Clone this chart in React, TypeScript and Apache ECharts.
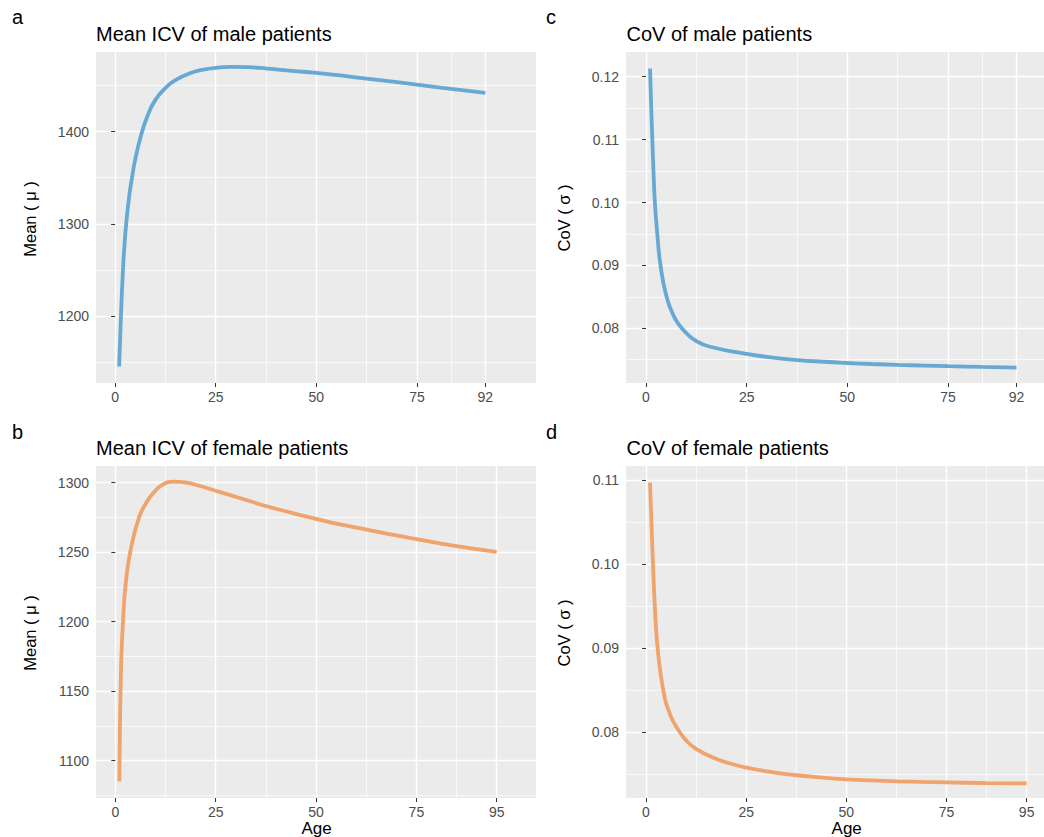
import React, { useEffect, useRef } from "react";
import * as echarts from "echarts";

// ---- data ----
const maleMeanAge = [1, 1.45, 1.95, 2.3, 2.75, 3.5, 4.2, 5, 6.5, 8, 10, 12.75, 15, 18.6, 22, 25, 28.6, 33, 37.7, 44, 50, 56, 62.5, 69, 75, 83.5, 92];
const maleMean = [1145, 1200, 1250, 1275, 1300, 1330, 1350, 1370, 1397, 1416.5, 1434.5, 1448.5, 1456, 1463.5, 1467.3, 1469.2, 1470.3, 1470, 1468.5, 1466, 1463.8, 1461, 1457.6, 1454.3, 1451, 1446.5, 1442];

const femaleMeanAge = [1, 1.15, 1.3, 1.5, 1.9, 2.5, 3.7, 5.9, 8, 9.4, 11.5, 14.5, 18, 21.1, 25, 31, 37.5, 44, 50, 56, 62.6, 69, 75, 85, 95];
const femaleMean = [1085, 1125, 1150, 1175, 1200, 1225, 1250, 1275, 1287, 1292.3, 1298, 1300.8, 1299.9, 1297.6, 1294.2, 1289, 1283.2, 1278.3, 1274, 1270, 1266.3, 1262.6, 1259.4, 1254.3, 1250.2];

const maleCovAge = [1, 1.3, 1.6, 1.85, 2.2, 2.8, 3.6, 5.1, 7, 8.9, 12.6, 17, 23.5, 30, 37.6, 44, 50, 56, 62.6, 69, 75, 83.5, 92];
const maleCov = [0.1213, 0.115, 0.1095, 0.105, 0.1, 0.095, 0.09, 0.085, 0.0818, 0.08, 0.0779, 0.0769, 0.0761, 0.07545, 0.07495, 0.07468, 0.07448, 0.07432, 0.07418, 0.07407, 0.07397, 0.07386, 0.07376];

const femaleCovAge = [1, 1.4, 1.75, 2.2, 2.9, 4.3, 6, 8, 10, 12.5, 17, 21, 25, 31, 37.5, 44, 50, 56, 62.6, 69, 75, 85, 95];
const femaleCov = [0.1097, 0.1045, 0.1, 0.095, 0.09, 0.085, 0.0821, 0.0803, 0.079, 0.078, 0.0769, 0.07625, 0.07575, 0.07525, 0.07485, 0.07456, 0.07436, 0.07423, 0.07412, 0.07405, 0.074, 0.07392, 0.07388];

const maleXTicks = [0, 25, 50, 75, 92];
const maleXMinor = [12.5, 37.5, 62.5, 83.5];
const femaleXTicks = [0, 25, 50, 75, 95];
const femaleXMinor = [12.5, 37.5, 62.5, 85];
const maleMeanYTicks = [1200, 1300, 1400];
const maleMeanYMinor = [1150, 1250, 1350, 1450];
const femaleMeanYTicks = [1100, 1150, 1200, 1250, 1300];
const femaleMeanYMinor = [1075, 1125, 1175, 1225, 1275];
const maleCovYTicks = [0.08, 0.09, 0.1, 0.11, 0.12];
const maleCovYMinor = [0.075, 0.085, 0.095, 0.105, 0.115];
const femaleCovYTicks = [0.08, 0.09, 0.1, 0.11];
const femaleCovYMinor = [0.075, 0.085, 0.095, 0.105];

const panelLetters = ["a", "b", "c", "d"];
const panelTitles = [
  "Mean ICV of male patients",
  "Mean ICV of female patients",
  "CoV of male patients",
  "CoV of female patients",
];
const meanAxisTitle = "Mean ( μ )";
const covAxisTitle = "CoV ( σ )";
const xAxisTitle = "Age";

const BLUE = "#68A9D4";
const ORANGE = "#EFA36D";
const FONT = "Liberation Sans, Arial, Helvetica, sans-serif";

function buildOption() {
  const panels = [
    {
      ages: maleMeanAge, vals: maleMean, color: BLUE,
      grid: { left: 96, top: 52, width: 440, height: 331 },
      xMin: -4.75, xMax: 104.59, yMin: 1127.1, yMax: 1486.5,
      xTicks: maleXTicks, xMinor: maleXMinor, yTicks: maleMeanYTicks, yMinor: maleMeanYMinor,
      fmt: (v: number) => String(v),
    },
    {
      ages: femaleMeanAge, vals: femaleMean, color: ORANGE,
      grid: { left: 96, top: 466, width: 440, height: 332 },
      xMin: -4.82, xMax: 104.8, yMin: 1073.2, yMax: 1312.0,
      xTicks: femaleXTicks, xMinor: femaleXMinor, yTicks: femaleMeanYTicks, yMinor: femaleMeanYMinor,
      fmt: (v: number) => String(v),
    },
    {
      ages: maleCovAge, vals: maleCov, color: BLUE,
      grid: { left: 626, top: 52, width: 418, height: 331 },
      xMin: -4.97, xMax: 98.83, yMin: 0.0713, yMax: 0.12393,
      xTicks: maleXTicks, xMinor: maleXMinor, yTicks: maleCovYTicks, yMinor: maleCovYMinor,
      fmt: (v: number) => v.toFixed(2),
    },
    {
      ages: femaleCovAge, vals: femaleCov, color: ORANGE,
      grid: { left: 626, top: 466, width: 418, height: 332 },
      xMin: -4.99, xMax: 99.33, yMin: 0.07214, yMax: 0.11167,
      xTicks: femaleXTicks, xMinor: femaleXMinor, yTicks: femaleCovYTicks, yMinor: femaleCovYMinor,
      fmt: (v: number) => v.toFixed(2),
    },
  ];

  const grid: any[] = [];
  const xAxis: any[] = [];
  const yAxis: any[] = [];
  const series: any[] = [];

  panels.forEach((p, i) => {
    grid.push({
      ...p.grid,
      show: true,
      backgroundColor: "#EBEBEB",
      borderWidth: 0,
      containLabel: false,
    });
    xAxis.push({
      type: "value", gridIndex: i, min: p.xMin, max: p.xMax, position: "bottom",
      axisLine: { show: false },
      axisTick: { show: true, length: 4, customValues: p.xTicks, lineStyle: { color: "#333333", width: 1 } },
      axisLabel: { show: true, customValues: p.xTicks, margin: 7, color: "#4D4D4D", fontSize: 14, fontFamily: FONT, formatter: (v: number) => String(v) },
      splitLine: { show: true, lineStyle: { color: "#FFFFFF", width: 1.4 } },
    });
    xAxis.push({
      type: "value", gridIndex: i, min: p.xMin, max: p.xMax, position: "bottom",
      axisLine: { show: false },
      axisTick: { show: false, customValues: p.xMinor },
      axisLabel: { show: false, customValues: p.xMinor },
      splitLine: { show: true, lineStyle: { color: "#FFFFFF", width: 0.7 } },
    });
    yAxis.push({
      type: "value", gridIndex: i, min: p.yMin, max: p.yMax, position: "left",
      axisLine: { show: false },
      axisTick: { show: true, length: 4, customValues: p.yTicks, lineStyle: { color: "#333333", width: 1 } },
      axisLabel: { show: true, customValues: p.yTicks, margin: 7, color: "#4D4D4D", fontSize: 14, fontFamily: FONT, formatter: p.fmt },
      splitLine: { show: true, lineStyle: { color: "#FFFFFF", width: 1.4 } },
    });
    yAxis.push({
      type: "value", gridIndex: i, min: p.yMin, max: p.yMax, position: "left",
      axisLine: { show: false },
      axisTick: { show: false, customValues: p.yMinor },
      axisLabel: { show: false, customValues: p.yMinor },
      splitLine: { show: true, lineStyle: { color: "#FFFFFF", width: 0.7 } },
    });
    series.push({
      type: "line",
      xAxisIndex: i * 2,
      yAxisIndex: i * 2,
      data: p.ages.map((a, k) => [a, p.vals[k]]),
      showSymbol: false,
      symbol: "none",
      smooth: 0.5,
      lineStyle: { color: p.color, width: 3.8, cap: "butt" },
      z: 5,
    });
  });

  const text = (x: number, y: number, t: string, size: number, align = "left", rotation = 0) => ({
    type: "text",
    x, y,
    rotation,
    style: {
      text: t,
      fill: "#000000",
      font: `${size}px ${FONT}`,
      align,
      verticalAlign: "middle",
    },
  });

  const graphic = [
    text(12, 16.5, panelLetters[0], 20),
    text(12, 432, panelLetters[1], 20),
    text(546, 16.5, panelLetters[2], 20),
    text(546, 432, panelLetters[3], 20),
    text(96, 33.6, panelTitles[0], 20),
    text(96, 448.4, panelTitles[1], 20),
    text(626.5, 33.6, panelTitles[2], 20),
    text(626.5, 448.4, panelTitles[3], 20),
    text(29.5, 219, meanAxisTitle, 16.5, "center", Math.PI / 2),
    text(29.5, 633, meanAxisTitle, 16.5, "center", Math.PI / 2),
    text(564, 218, covAxisTitle, 16.5, "center", Math.PI / 2),
    text(564, 633, covAxisTitle, 16.5, "center", Math.PI / 2),
    text(316.5, 828.7, xAxisTitle, 17, "center"),
    text(846.7, 828.7, xAxisTitle, 17, "center"),
  ];

  return {
    animation: false,
    backgroundColor: "#FFFFFF",
    grid,
    xAxis,
    yAxis,
    series,
    graphic,
  };
}

export default function App() {
  const ref = useRef<HTMLDivElement>(null);
  useEffect(() => {
    if (!ref.current) return;
    const chart = echarts.init(ref.current, undefined, { renderer: "svg" });
    chart.setOption(buildOption() as any);
    return () => chart.dispose();
  }, []);
  return (
    <div
      ref={ref}
      style={{ position: "fixed", left: 0, top: 0, width: 1044, height: 837, background: "#fff" }}
    />
  );
}
